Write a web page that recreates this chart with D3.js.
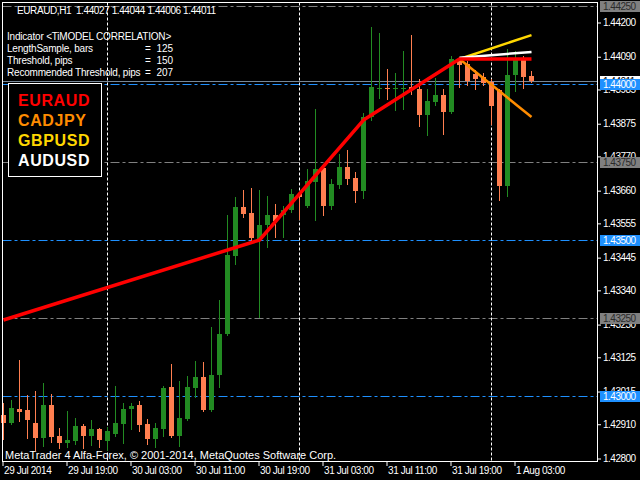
<!DOCTYPE html>
<html>
<head>
<meta charset="utf-8">
<script src="https://cdnjs.cloudflare.com/ajax/libs/d3/7.8.5/d3.min.js"></script>
<style>
body { margin: 0; background: #000; }
svg { display: block; font-family: "Liberation Sans", Arial, sans-serif; }
</style>
</head>
<body>
<div id="chartDiv"></div>
<script>
// EURAUD H1 bars, 29 Jul 11:00 .. 1 Aug 05:00
var opens = [1.42938,1.42913,1.42957,1.42954,1.42912,1.42864,1.42970,1.42871,1.42848,1.42855,
    1.42903,1.42871,1.42893,1.42855,1.42877,1.42909,1.42957,1.42970,1.42909,1.42861,
    1.42893,1.43028,1.42871,1.42925,1.43025,1.43060,1.42954,1.43067,1.43198,1.43449,
    1.43606,1.43587,1.43500,1.43548,1.43580,1.43580,1.43596,1.43648,1.43609,1.43686,
    1.43731,1.43609,1.43677,1.43734,1.43699,1.43657,1.43895,1.43985,1.43988,1.43985,
    1.43985,1.43991,1.43985,1.43901,1.43943,1.43966,1.43911,1.44078,1.44065,1.44033,
    1.44023,1.44007,1.43982,1.43673,1.44030,1.44078,1.44027];
var highs = [1.42977,1.42986,1.43115,1.43002,1.43015,1.43041,1.43006,1.42896,1.42951,1.42928,
    1.42909,1.42922,1.42896,1.42900,1.43031,1.42977,1.42977,1.42983,1.42925,1.42912,
    1.43031,1.43102,1.43047,1.43063,1.43111,1.43108,1.43221,1.43307,1.43580,1.43638,
    1.43661,1.43667,1.43661,1.43641,1.43616,1.43609,1.43664,1.43654,1.43728,1.43921,
    1.43744,1.43696,1.43776,1.43789,1.43718,1.43908,1.44184,1.44165,1.44049,1.44036,
    1.44107,1.44158,1.44017,1.43985,1.44020,1.43985,1.44091,1.44088,1.44075,1.44046,
    1.44036,1.44017,1.43985,1.44113,1.44107,1.44091,1.44044];
var lows = [1.42861,1.42910,1.42919,1.42864,1.42826,1.42839,1.42851,1.42832,1.42835,1.42845,
    1.42832,1.42842,1.42835,1.42826,1.42871,1.42848,1.42893,1.42887,1.42845,1.42835,
    1.42871,1.42867,1.42839,1.42922,1.42996,1.42951,1.42951,1.43028,1.43195,1.43423,
    1.43574,1.43500,1.43253,1.43478,1.43510,1.43510,1.43590,1.43567,1.43606,1.43564,
    1.43580,1.43600,1.43667,1.43680,1.43622,1.43635,1.43885,1.43956,1.43953,1.43917,
    1.43921,1.43969,1.43866,1.43837,1.43934,1.43840,1.43908,1.43991,1.43998,1.43985,
    1.43998,1.43872,1.43628,1.43641,1.43978,1.43988,1.44006];
var closes = [1.42912,1.42961,1.42948,1.42922,1.42863,1.42970,1.42867,1.42848,1.42858,1.42903,
    1.42871,1.42893,1.42858,1.42887,1.42913,1.42957,1.42967,1.42906,1.42861,1.42896,
    1.43025,1.42871,1.42928,1.43028,1.43060,1.42954,1.43067,1.43198,1.43452,1.43606,
    1.43584,1.43506,1.43548,1.43580,1.43561,1.43596,1.43648,1.43638,1.43690,1.43728,
    1.43609,1.43680,1.43734,1.43696,1.43657,1.43895,1.43991,1.43988,1.43985,1.43988,
    1.43988,1.43985,1.43901,1.43946,1.43966,1.43911,1.44081,1.44062,1.44011,1.44017,
    1.44004,1.43930,1.43673,1.44030,1.44078,1.44023,1.44011];

// indicator: EURAUD correlation path + projections
var corrBars = [0, 32, 45, 57, 66];
var corrPrices = [1.43243, 1.43500, 1.43885, 1.44081, 1.44081];
var projBars = [57, 66];
var cadjpyProj = [1.44081, 1.43895];
var gbpusdProj = [1.44081, 1.44158];
var audusdProj = [1.44085, 1.44104];

var timeBars = [0, 8, 16, 24, 32, 40, 48, 56, 64];
var timeLabels = ["29 Jul 2014", "29 Jul 19:00", "30 Jul 03:00", "30 Jul 11:00", "30 Jul 19:00",
    "31 Jul 03:00", "31 Jul 11:00", "31 Jul 19:00", "1 Aug 03:00"];
var daySeparators = [13, 37, 61];
var priceTicks = [1.44200, 1.44090, 1.43985, 1.43875, 1.43770, 1.43660, 1.43555,
    1.43445, 1.43340, 1.43230, 1.43125, 1.43015, 1.42910, 1.42800];
var greyLevels = [1.44250, 1.43750, 1.43250];
var blueLevels = [1.44000, 1.43500, 1.43000];
var bidPrice = 1.44011;

var header = "EURAUD,H1  1.44027 1.44044 1.44006 1.44011";
var infoLabels = ["Indicator <TiMODEL CORRELATION>", "LengthSample, bars", "Threshold, pips", "Recommended Threshold, pips"];
var infoValues = ["", "= 125", "= 150", "= 207"];
var legendNames = ["EURAUD", "CADJPY", "GBPUSD", "AUDUSD"];
var legendColors = ["#ff0000", "#ff8c00", "#ffd700", "#ffffff"];
var copyright = "MetaTrader 4 Alfa-Forex, \u00a9 2001-2014, MetaQuotes Software Corp.";

var width = 640;
var height = 480;
var plot = { left: 2.5, top: 2.5, right: 597.5, bottom: 461.5 };
var bullColor = "#228b22";
var bearColor = "#ff7f50";
var greyColor = "#808080";
var blueColor = "#1e90ff";

var x = d3.scaleLinear().domain([0, 66]).range([3.5, 531.5]);
var y = d3.scaleLinear().domain([1.42800, 1.44200]).range([458, 22]);

var chart = d3.select("#chartDiv").append("svg")
    .attr("width", width)
    .attr("height", height);

chart.append("rect")
    .attr("width", width).attr("height", height)
    .attr("fill", "#000");

var bars = d3.range(opens.length).map(function(i) {
    return { i: i, o: opens[i], h: highs[i], l: lows[i], c: closes[i] };
});

// level lines
function levelLine(price, color) {
    chart.append("line")
        .attr("x1", plot.left).attr("x2", plot.right)
        .attr("y1", Math.round(y(price)) + 0.5).attr("y2", Math.round(y(price)) + 0.5)
        .attr("stroke", color)
        .attr("stroke-dasharray", "9,3,3,3");
}
greyLevels.forEach(function(p) { levelLine(p, greyColor); });
blueLevels.forEach(function(p) { levelLine(p, blueColor); });

chart.append("line")
    .attr("x1", plot.left).attr("x2", plot.right)
    .attr("y1", Math.round(y(bidPrice)) + 0.5).attr("y2", Math.round(y(bidPrice)) + 0.5)
    .attr("stroke", "#778899");

// day separators
chart.selectAll(".sep").data(daySeparators).enter().append("line")
    .attr("class", "sep")
    .attr("x1", function(d) { return x(d); }).attr("x2", function(d) { return x(d); })
    .attr("y1", plot.top).attr("y2", plot.bottom)
    .attr("stroke", "#fff")
    .attr("stroke-dasharray", "3,2");

// candles
var candle = chart.selectAll(".bar").data(bars).enter().append("g").attr("class", "bar");
candle.append("line")
    .attr("x1", function(d) { return x(d.i); }).attr("x2", function(d) { return x(d.i); })
    .attr("y1", function(d) { return Math.round(y(d.h)); })
    .attr("y2", function(d) { return Math.round(y(d.l)) + 1; })
    .attr("stroke", function(d) { return d.c >= d.o ? bullColor : bearColor; });
candle.append("rect")
    .attr("x", function(d) { return x(d.i) - 2.5; })
    .attr("width", 5)
    .attr("y", function(d) { return Math.round(y(Math.max(d.o, d.c))); })
    .attr("height", function(d) { return Math.max(1, Math.round(y(Math.min(d.o, d.c))) - Math.round(y(Math.max(d.o, d.c)))); })
    .attr("fill", function(d) { return d.c >= d.o ? bullColor : bearColor; });

// indicator lines
var line = d3.line()
    .x(function(d) { return x(d[0]); })
    .y(function(d) { return y(d[1]); });

function drawProj(vals, color, w) {
    chart.append("path")
        .attr("d", line(d3.zip(projBars, vals)))
        .attr("fill", "none")
        .attr("stroke", color)
        .attr("stroke-width", w);
}
drawProj(gbpusdProj, "#ffd700", 2.5);
drawProj(audusdProj, "#ffffff", 2.5);
drawProj(cadjpyProj, "#ff8c00", 2.5);

chart.append("path")
    .attr("d", line(d3.zip(corrBars, corrPrices)))
    .attr("fill", "none")
    .attr("stroke", "#ff0000")
    .attr("stroke-width", 3.5)
    .attr("stroke-linejoin", "round");

// texts
chart.append("text")
    .attr("x", 17).attr("y", 14)
    .attr("fill", "#fff").style("font-size", "10px")
    .style("letter-spacing", "-0.4px").style("white-space", "pre")
    .text(header);

chart.selectAll(".info").data(infoLabels).enter().append("text")
    .attr("class", "info")
    .attr("x", 7).attr("y", function(d, i) { return 39.5 + i * 12; })
    .attr("fill", "#fff").style("font-size", "10px").style("letter-spacing", "-0.2px")
    .text(function(d) { return d; });
chart.selectAll(".infoval").data(infoValues).enter().append("text")
    .attr("class", "infoval")
    .attr("x", 145).attr("y", function(d, i) { return 39.5 + i * 12; })
    .attr("fill", "#fff").style("font-size", "10px").style("white-space", "pre")
    .text(function(d) { return d.replace("= ", "=  "); });

// legend box
chart.append("rect")
    .attr("x", 8.5).attr("y", 83.5).attr("width", 93).attr("height", 93)
    .attr("fill", "#000").attr("stroke", "#fff");
chart.selectAll(".legend").data(legendNames).enter().append("text")
    .attr("class", "legend")
    .attr("x", 18).attr("y", function(d, i) { return 105.7 + i * 20; })
    .attr("fill", function(d, i) { return legendColors[i]; })
    .style("font-size", "16px").style("font-weight", "bold").style("letter-spacing", "0.6px")
    .text(function(d) { return d; });

chart.append("text")
    .attr("x", 5).attr("y", 459)
    .attr("fill", "#fff").style("font-size", "11px")
    .text(copyright);

// frame
chart.append("rect")
    .attr("x", plot.left).attr("y", plot.top)
    .attr("width", plot.right - plot.left).attr("height", plot.bottom - plot.top)
    .attr("fill", "none").attr("stroke", "#fff");

// price axis
var yAxis = d3.axisRight(y)
    .tickValues(priceTicks)
    .tickFormat(d3.format(".5f"))
    .tickSize(3).tickPadding(2);
var yAxisG = chart.append("g")
    .attr("transform", "translate(" + (plot.right + 0.5) + ",0.5)")
    .call(yAxis);
yAxisG.select(".domain").remove();
yAxisG.selectAll("line").attr("stroke", "#fff");
yAxisG.selectAll("text").attr("fill", "#fff")
    .style("font-size", "10px").style("letter-spacing", "-0.5px")
    .style("font-family", "'Liberation Sans', Arial, sans-serif");

// time axis
var xAxis = d3.axisBottom(x)
    .tickValues(timeBars)
    .tickFormat(function(d, i) { return timeLabels[i]; })
    .tickSize(4).tickPadding(1);
var xAxisG = chart.append("g")
    .attr("transform", "translate(-1," + (plot.bottom + 0.5) + ")")
    .call(xAxis);
xAxisG.select(".domain").remove();
xAxisG.selectAll("line").attr("stroke", "#fff");
xAxisG.selectAll("text").attr("fill", "#fff")
    .attr("text-anchor", "start").attr("x", 1)
    .style("font-size", "10px").style("letter-spacing", "-0.4px")
    .style("font-family", "'Liberation Sans', Arial, sans-serif");

// price tags on the axis
function priceTag(price, fill, textColor) {
    var yy = Math.round(y(price));
    chart.append("rect")
        .attr("x", 600).attr("y", yy - 5).attr("width", 40).attr("height", 11)
        .attr("fill", fill);
    chart.append("text")
        .attr("x", 603).attr("y", yy + 4)
        .attr("fill", textColor)
        .style("font-size", "10px").style("letter-spacing", "-0.5px")
        .text(d3.format(".5f")(price));
}
priceTag(bidPrice, "#ffffff", "#000");
greyLevels.forEach(function(p) { priceTag(p, greyColor, "#2a2a2a"); });
blueLevels.forEach(function(p) { priceTag(p, blueColor, "#ffffff"); });
</script>
</body>
</html>
